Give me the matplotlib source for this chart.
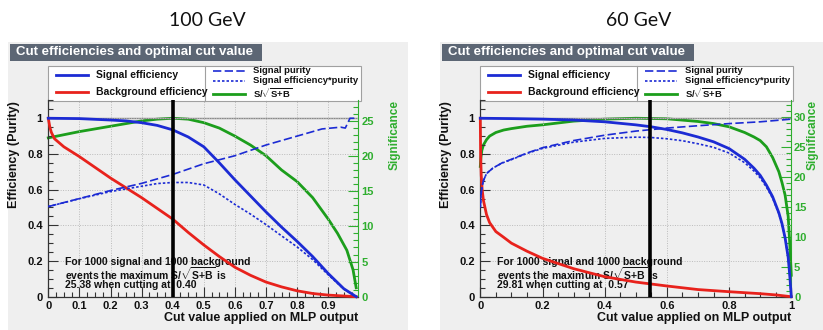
import matplotlib
matplotlib.use("Agg")
import matplotlib.pyplot as plt
from matplotlib.patches import Rectangle
from matplotlib.lines import Line2D
from matplotlib.ticker import MultipleLocator

plt.rcParams["font.family"] = ["Liberation Sans", "DejaVu Sans"]
plt.rcParams["mathtext.fontset"] = "custom"
plt.rcParams["mathtext.rm"] = "Liberation Sans:bold"
plt.rcParams["mathtext.it"] = "Liberation Sans:bold"
plt.rcParams["mathtext.bf"] = "Liberation Sans:bold"

titles = ["100 GeV", "60 GeV"]
n_signal = 1000
n_background = 1000
max_signif = [25.38, 29.81]
cut_label = ["0.40", "0.57"]
cut_line = [0.40, 0.545]

# ---------------- 100 GeV ----------------
sig_eff_x_100 = [0, 0.1, 0.2, 0.25, 0.3, 0.35, 0.4, 0.45, 0.5, 0.55, 0.6, 0.65, 0.7, 0.75, 0.8, 0.85, 0.9, 0.95, 0.99]
sig_eff_100 = [1.0, 0.998, 0.99, 0.985, 0.975, 0.96, 0.935, 0.895, 0.84, 0.75, 0.655, 0.565, 0.475, 0.39, 0.31, 0.225, 0.13, 0.045, 0.0]

bkg_eff_x_100 = [0, 0.005, 0.01, 0.02, 0.05, 0.1, 0.15, 0.2, 0.25, 0.3, 0.35, 0.4, 0.45, 0.5, 0.55, 0.6, 0.65, 0.7, 0.75, 0.8, 0.85, 0.9, 0.95, 0.99]
bkg_eff_100 = [1.0, 0.95, 0.92, 0.885, 0.84, 0.785, 0.725, 0.665, 0.61, 0.555, 0.495, 0.435, 0.36, 0.29, 0.225, 0.165, 0.12, 0.082, 0.055, 0.033, 0.018, 0.009, 0.004, 0.0]

purity_x_100 = [0, 0.1, 0.2, 0.3, 0.4, 0.5, 0.6, 0.7, 0.8, 0.88, 0.94, 0.955, 0.97, 0.99]
purity_100 = [0.505, 0.55, 0.595, 0.635, 0.685, 0.745, 0.79, 0.85, 0.9, 0.94, 0.95, 0.945, 1.0, 1.0]

effpur_x_100 = [0, 0.1, 0.2, 0.3, 0.35, 0.4, 0.45, 0.5, 0.55, 0.6, 0.65, 0.7, 0.75, 0.8, 0.85, 0.9, 0.95, 0.99]
effpur_100 = [0.505, 0.549, 0.589, 0.619, 0.634, 0.640, 0.640, 0.626, 0.576, 0.517, 0.463, 0.404, 0.341, 0.279, 0.208, 0.123, 0.043, 0.0]

signif_x_100 = [0, 0.1, 0.2, 0.3, 0.35, 0.4, 0.45, 0.5, 0.55, 0.6, 0.65, 0.7, 0.75, 0.8, 0.85, 0.9, 0.93, 0.96, 0.98, 0.99]
signif_100 = [22.59, 23.48, 24.24, 25.0, 25.25, 25.38, 25.25, 24.75, 23.98, 22.84, 21.57, 20.05, 18.02, 16.37, 14.09, 11.04, 9.01, 6.60, 3.81, 1.27]

# ---------------- 60 GeV ----------------
sig_eff_x_60 = [0, 0.1, 0.2, 0.3, 0.4, 0.5, 0.55, 0.6, 0.65, 0.7, 0.75, 0.8, 0.85, 0.88, 0.9, 0.92, 0.94, 0.96, 0.97, 0.98, 0.99, 0.995, 1.0]
sig_eff_60 = [1.0, 0.998, 0.995, 0.99, 0.98, 0.963, 0.952, 0.937, 0.918, 0.895, 0.868, 0.83, 0.77, 0.72, 0.68, 0.625, 0.56, 0.47, 0.41, 0.33, 0.22, 0.12, 0.0]

bkg_eff_x_60 = [0, 0.001, 0.003, 0.006, 0.01, 0.02, 0.03, 0.05, 0.075, 0.1, 0.15, 0.2, 0.3, 0.4, 0.5, 0.6, 0.7, 0.8, 0.9, 0.95, 1.0]
bkg_eff_60 = [1.0, 0.8, 0.68, 0.6, 0.54, 0.46, 0.415, 0.365, 0.333, 0.30, 0.255, 0.215, 0.157, 0.112, 0.082, 0.06, 0.04, 0.028, 0.017, 0.01, 0.0]

purity_x_60 = [0, 0.003, 0.006, 0.01, 0.02, 0.04, 0.07, 0.1, 0.15, 0.2, 0.3, 0.4, 0.5, 0.6, 0.7, 0.8, 0.9, 1.0]
purity_60 = [0.50, 0.58, 0.62, 0.65, 0.69, 0.72, 0.75, 0.77, 0.805, 0.835, 0.875, 0.905, 0.928, 0.945, 0.958, 0.97, 0.98, 0.995]

effpur_x_60 = [0, 0.003, 0.006, 0.01, 0.02, 0.04, 0.07, 0.1, 0.15, 0.2, 0.3, 0.4, 0.5, 0.55, 0.6, 0.65, 0.7, 0.75, 0.8, 0.85, 0.88, 0.9, 0.92, 0.94, 0.96, 0.97, 0.98, 0.99, 0.995, 1.0]
effpur_60 = [0.50, 0.58, 0.62, 0.65, 0.69, 0.72, 0.749, 0.768, 0.803, 0.831, 0.866, 0.887, 0.894, 0.892, 0.885, 0.874, 0.857, 0.837, 0.805, 0.751, 0.704, 0.666, 0.614, 0.552, 0.465, 0.406, 0.327, 0.219, 0.119, 0.0]

signif_x_60 = [0, 0.002, 0.005, 0.01, 0.02, 0.03, 0.05, 0.075, 0.1, 0.15, 0.2, 0.3, 0.4, 0.5, 0.6, 0.7, 0.75, 0.8, 0.85, 0.88, 0.9, 0.92, 0.94, 0.96, 0.97, 0.98, 0.99, 0.995, 1.0]
signif_60 = [21.76, 23.25, 24.44, 25.34, 26.23, 26.83, 27.43, 27.84, 28.08, 28.47, 28.71, 29.33, 29.66, 29.81, 29.72, 29.27, 28.92, 28.38, 27.43, 26.68, 26.08, 25.04, 23.25, 20.87, 19.08, 16.99, 13.41, 8.94, 3.58]

panels = [
    dict(sig=(sig_eff_x_100, sig_eff_100), bkg=(bkg_eff_x_100, bkg_eff_100),
         pur=(purity_x_100, purity_100), ep=(effpur_x_100, effpur_100),
         sg=(signif_x_100, signif_100), xmax=0.997, xminor=0.025,
         xticks=[0, 0.1, 0.2, 0.3, 0.4, 0.5, 0.6, 0.7, 0.8, 0.9],
         xticklabels=["0", "0.1", "0.2", "0.3", "0.4", "0.5", "0.6", "0.7", "0.8", "0.9"],
         rticks=[0, 5, 10, 15, 20, 25], signif_x=395),
    dict(sig=(sig_eff_x_60, sig_eff_60), bkg=(bkg_eff_x_60, bkg_eff_60),
         pur=(purity_x_60, purity_60), ep=(effpur_x_60, effpur_60),
         sg=(signif_x_60, signif_60), xmax=1.0, xminor=0.05,
         xticks=[0, 0.2, 0.4, 0.6, 0.8, 1.0],
         xticklabels=["0", "0.2", "0.4", "0.6", "0.8", "1"],
         rticks=[0, 5, 10, 15, 20, 25, 30], signif_x=813),
]

W, H = 823, 330
fig = plt.figure(figsize=(W / 100, H / 100), dpi=100)
fig.patch.set_facecolor("white")

BLUE = "#1c2bd4"
RED = "#e8221c"
GREEN = "#1c9e1c"
GREEN_TXT = "#2fae2f"
PANEL_BG = "#efefef"
BAR_BG = "#5c6674"
DASHED = (0, (5, 2))
DOTTED = (0, (1.5, 1.2))


def fx(x):
    return x / W


def fy(y):
    return 1 - y / H


def rect(x0, y0, x1, y1):
    return [fx(x0), fy(y1), (x1 - x0) / W, (y1 - y0) / H]


for i, p in enumerate(panels):
    off = 432 * i
    # panel background and title bar
    fig.patches.append(Rectangle((fx(8 + off), 0), 400 / W, fy(42), transform=fig.transFigure,
                                 facecolor=PANEL_BG, edgecolor="none", zorder=-10))
    fig.patches.append(Rectangle((fx(10 + off), fy(61)), 252 / W, 17 / H, transform=fig.transFigure,
                                 facecolor=BAR_BG, edgecolor="none", zorder=-9))
    fig.text(fx(16 + off), fy(52.5), "Cut efficiencies and optimal cut value", color="white",
             fontsize=9.5, fontweight="bold", va="center", ha="left", zorder=5)
    fig.text(fx(207 + off), fy(21), titles[i], fontsize=14, family=["Lato", "DejaVu Sans"],
             ha="center", va="center", color="#111111", zorder=5)

    # legend box
    lx0, lx1 = 48 + off, 361 + off
    fig.patches.append(Rectangle((fx(lx0), fy(101)), (lx1 - lx0) / W, 35 / H, transform=fig.transFigure,
                                 facecolor="white", edgecolor="#a0a0a0", lw=0.8, zorder=-8))
    fig.lines.append(Line2D([fx(205 + off)] * 2, [fy(66), fy(101)], transform=fig.transFigure,
                            color="#a0a0a0", lw=0.8, zorder=5))
    legend_rows = [
        (56, 88, 96, 75, "Signal efficiency", dict(color=BLUE, lw=2.0, ls="-"), 7.5),
        (56, 88, 96, 92, "Background efficiency", dict(color=RED, lw=2.0, ls="-"), 7.5),
        (213, 245, 253, 70.5, "Signal purity", dict(color=BLUE, lw=1.2, ls=DASHED), 6.8),
        (213, 245, 253, 80.5, "Signal efficiency*purity", dict(color=BLUE, lw=1.2, ls=DOTTED), 6.8),
        (213, 245, 253, 93.5, r"S/$\sqrt{S\!+\!B}$", dict(color=GREEN, lw=2.0, ls="-"), 6.8),
    ]
    for a, b, t, yy, lab, st, fs in legend_rows:
        fig.lines.append(Line2D([fx(a + off), fx(b + off)], [fy(yy), fy(yy)], transform=fig.transFigure,
                                zorder=5, **st))
        fig.text(fx(t + off), fy(yy), lab, fontsize=fs, fontweight="bold", va="center", ha="left",
                 color="#111111", zorder=5)

    # main axes
    x0 = 48.3 + off
    x1 = x0 + 311 * p["xmax"]
    ax = fig.add_axes(rect(x0, 100.4, x1, 296.7))
    ax2 = ax.twinx()
    ax2.set_zorder(1)
    ax.set_zorder(2)
    ax.patch.set_visible(False)
    ax2.patch.set_facecolor("white")

    ax.set_xlim(0, p["xmax"])
    ax.set_ylim(0, 1.1)
    ax.set_xticks(p["xticks"])
    ax.set_xticklabels(p["xticklabels"])
    ax.xaxis.set_minor_locator(MultipleLocator(p["xminor"]))
    ax.set_yticks([0, 0.2, 0.4, 0.6, 0.8, 1.0])
    ax.set_yticklabels(["0", "0.2", "0.4", "0.6", "0.8", "1"])
    ax.yaxis.set_minor_locator(MultipleLocator(0.05))
    ax.tick_params(which="both", direction="in", colors="#333333", labelcolor="#111111",
                   labelsize=8)
    ax.tick_params(which="major", length=7, width=0.8)
    ax.tick_params(which="minor", length=3.5, width=0.8)
    ax.tick_params(axis="x", pad=3)
    ax.tick_params(axis="y", pad=4)
    for lab in ax.get_xticklabels() + ax.get_yticklabels():
        lab.set_fontweight("bold")
    ax.grid(True, which="major", color="#bbbbbb", ls=(0, (1, 1.5)), lw=0.7)
    for s in ["top", "right"]:
        ax.spines[s].set_visible(False)
    for s in ["left", "bottom"]:
        ax.spines[s].set_color("#333333")
        ax.spines[s].set_linewidth(0.9)

    ax.axhline(1.0, color="#888888", lw=1.0, zorder=1)
    ax.plot(*p["bkg"], color=RED, lw=2.0, zorder=4, clip_on=False)
    ax.plot(*p["pur"], color=BLUE, lw=1.2, ls=DASHED, zorder=4)
    ax.plot(*p["ep"], color=BLUE, lw=1.2, ls=DOTTED, zorder=4)
    ax.plot(*p["sig"], color=BLUE, lw=2.0, zorder=4, clip_on=False)
    ax.axvline(cut_line[i], color="black", lw=2.6, zorder=6)

    note_lines = [
        f"For {n_signal} signal and {n_background} background",
        r"events the maximum S/$\sqrt{S\!+\!B}$ is",
        f"{max_signif[i]:.2f} when cutting at  {cut_label[i]}",
    ]
    for k, line in enumerate(note_lines):
        ax.text(fx(65 + off), fy(262 + 11.7 * k), line, transform=fig.transFigure, fontsize=7.5,
                fontweight="bold", va="center", ha="left", color="#111111", zorder=3)

    # significance axis
    ax2.set_ylim(0, 1.1 * max_signif[i])
    ax2.set_yticks(p["rticks"])
    ax2.yaxis.set_minor_locator(MultipleLocator(1))
    ax2.tick_params(which="both", direction="in", colors=GREEN_TXT, labelcolor=GREEN_TXT,
                    labelsize=8, pad=2)
    ax2.tick_params(which="major", length=7, width=0.8)
    ax2.tick_params(which="minor", length=3.5, width=0.8)
    for lab in ax2.get_yticklabels():
        lab.set_fontweight("bold")
    for s in ["top", "left", "bottom"]:
        ax2.spines[s].set_visible(False)
    ax2.spines["right"].set_color(GREEN_TXT)
    ax2.plot(*p["sg"], color=GREEN, lw=2.0, zorder=4, clip_on=False)

    fig.text(fx(p["signif_x"]), fy(100), "Significance", rotation=90,
             color=GREEN_TXT, fontsize=8.5, fontweight="bold", ha="center", va="top")
    fig.text(fx(14 + off), fy(101), "Efficiency (Purity)", rotation=90, color="#111111", fontsize=9,
             fontweight="bold", ha="center", va="top")
    fig.text(fx(x1), fy(318), "Cut value applied on MLP output", color="#111111", fontsize=9,
             fontweight="bold", ha="right", va="center")

fig.savefig("out.png", dpi=100)
